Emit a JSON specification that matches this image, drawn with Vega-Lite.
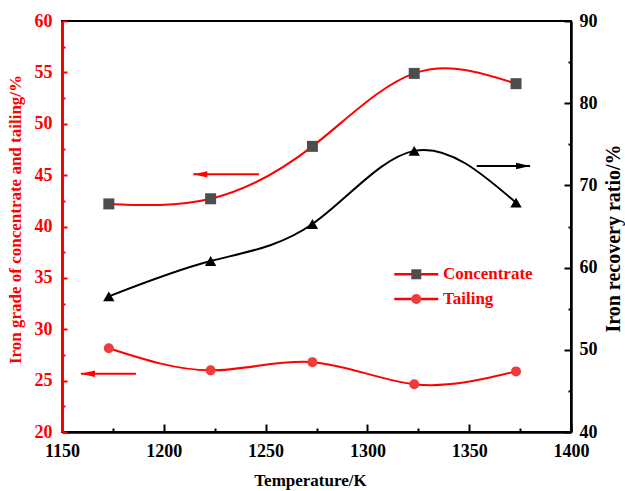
{
  "$schema": "https://vega.github.io/schema/vega-lite/v6.json",
  "width": 509,
  "height": 411,
  "autosize": {"type": "none"},
  "padding": {"left": 62, "top": 21, "right": 54, "bottom": 59},
  "background": "white",
  "config": {
    "view": {"stroke": "black", "strokeWidth": 2},
    "font": "Liberation Serif",
    "axis": {
      "labelFont": "Liberation Serif",
      "labelFontWeight": "bold",
      "labelFontSize": 18,
      "titleFont": "Liberation Serif",
      "titleFontWeight": "bold",
      "titleFontSize": 17,
      "grid": false,
      "labelOverlap": false,
      "labelFlush": false,
      "domainWidth": 2.5,
      "tickWidth": 2
    }
  },
  "datasets": {
    "grade": [
      {"series": "Concentrate", "x": 1173, "y": 42.2},
      {"series": "Concentrate", "x": 1223, "y": 42.7},
      {"series": "Concentrate", "x": 1273, "y": 47.8},
      {"series": "Concentrate", "x": 1323, "y": 54.9},
      {"series": "Concentrate", "x": 1373, "y": 53.9},
      {"series": "Tailing", "x": 1173, "y": 28.15},
      {"series": "Tailing", "x": 1223, "y": 26.0},
      {"series": "Tailing", "x": 1273, "y": 26.8},
      {"series": "Tailing", "x": 1323, "y": 24.65},
      {"series": "Tailing", "x": 1373, "y": 25.9}
    ],
    "recovery": [
      {"x": 1173, "y": 56.5},
      {"x": 1223, "y": 60.8},
      {"x": 1273, "y": 65.3},
      {"x": 1323, "y": 74.2},
      {"x": 1373, "y": 67.9}
    ],
    "arrowsL": [
      {"x": 1214.5, "x2": 1246.8, "y": 45.08},
      {"x": 1159.3, "x2": 1186.3, "y": 25.67}
    ],
    "arrowR": [
      {"x": 1379.9, "x2": 1353.7, "y": 72.36}
    ],
    "legendLine": [
      {"x": 1313.2, "x2": 1334.8, "y": 35.35},
      {"x": 1313.2, "x2": 1334.8, "y": 32.94}
    ],
    "legendSquare": [{"x": 1324, "y": 35.35}],
    "legendCircle": [{"x": 1324, "y": 32.94}],
    "legendText": [
      {"label": "Concentrate", "x": 1337.1, "y": 35.35},
      {"label": "Tailing", "x": 1337.1, "y": 32.94}
    ]
  },
  "encoding": {
    "x": {
      "field": "x",
      "type": "quantitative",
      "scale": {"domain": [1150, 1400], "nice": false, "zero": false},
      "axis": {
        "title": "Temperature/K",
        "titleX": 248,
        "values": [1150, 1175, 1200, 1225, 1250, 1275, 1300, 1325, 1350, 1375, 1400],
        "format": "d",
        "labelExpr": "datum.value % 50 == 0 ? datum.label : ''",
        "tickSize": {"condition": {"test": "datum.value % 50 != 0", "value": -4}, "value": -8},
        "labelPadding": 18,
        "titlePadding": 8,
        "domainColor": "black",
        "tickColor": "black",
        "labelColor": "black",
        "titleColor": "black"
      }
    }
  },
  "layer": [
    {
      "encoding": {
        "y": {
          "field": "y",
          "type": "quantitative",
          "scale": {"domain": [20, 60], "nice": false, "zero": false},
          "axis": {
            "title": "Iron grade of concentrate and tailing/%",
            "values": [20, 22.5, 25, 27.5, 30, 32.5, 35, 37.5, 40, 42.5, 45, 47.5, 50, 52.5, 55, 57.5, 60],
            "labelExpr": "datum.value % 5 == 0 ? datum.label : ''",
            "tickSize": {"condition": {"test": "datum.value % 5 != 0", "value": -3}, "value": -5},
            "labelPadding": 15,
            "titlePadding": 10,
            "titleY": 198,
            "domainColor": "#ff0000",
            "domainWidth": 3,
            "tickColor": "#ff0000",
            "labelColor": "#ff0000",
            "titleColor": "#ff0000"
          }
        }
      },
      "layer": [
        {
          "data": {"name": "grade"},
          "mark": {"type": "line", "interpolate": "natural", "color": "#ff0000", "strokeWidth": 2},
          "encoding": {"detail": {"field": "series"}}
        },
        {
          "data": {"name": "grade"},
          "transform": [{"filter": "datum.series == 'Concentrate'"}],
          "mark": {"type": "point", "shape": "square", "filled": true, "color": "#4d4d4d", "size": 121, "opacity": 1, "strokeWidth": 0}
        },
        {
          "data": {"name": "grade"},
          "transform": [{"filter": "datum.series == 'Tailing'"}],
          "mark": {"type": "point", "shape": "circle", "filled": true, "color": "#ee3b3b", "size": 100, "opacity": 1, "strokeWidth": 0}
        },
        {
          "data": {"name": "arrowsL"},
          "mark": {"type": "rule", "color": "#ff0000", "strokeWidth": 2},
          "encoding": {"x2": {"field": "x2"}}
        },
        {
          "data": {"name": "arrowsL"},
          "mark": {"type": "point", "shape": "M0,0L2,-0.45L2,0.45Z", "filled": true, "color": "#ff0000", "size": 196, "opacity": 1, "strokeWidth": 0}
        },
        {
          "data": {"name": "legendLine"},
          "mark": {"type": "rule", "color": "#ff0000", "strokeWidth": 2.5},
          "encoding": {"x2": {"field": "x2"}}
        },
        {
          "data": {"name": "legendSquare"},
          "mark": {"type": "point", "shape": "square", "filled": true, "color": "#4d4d4d", "size": 100, "opacity": 1, "strokeWidth": 0}
        },
        {
          "data": {"name": "legendCircle"},
          "mark": {"type": "point", "shape": "circle", "filled": true, "color": "#ee3b3b", "size": 100, "opacity": 1, "strokeWidth": 0}
        },
        {
          "data": {"name": "legendText"},
          "mark": {"type": "text", "align": "left", "baseline": "middle", "font": "Liberation Serif", "fontWeight": "bold", "fontSize": 17, "color": "#ff0000"},
          "encoding": {"text": {"field": "label"}}
        }
      ]
    },
    {
      "encoding": {
        "y": {
          "field": "y",
          "type": "quantitative",
          "scale": {"domain": [40, 90], "nice": false, "zero": false},
          "axis": {
            "orient": "right",
            "title": "Iron recovery ratio/%",
            "titleAngle": 270,
            "titleBaseline": "top",
            "titleFontSize": 20,
            "titleY": 217,
            "values": [40, 45, 50, 55, 60, 65, 70, 75, 80, 85, 90],
            "labelExpr": "datum.value % 10 == 0 ? datum.label : ''",
            "tickSize": {"condition": {"test": "datum.value % 10 != 0", "value": -3}, "value": -7},
            "labelPadding": 15,
            "titlePadding": 6,
            "domainColor": "black",
            "tickColor": "black",
            "labelColor": "black",
            "titleColor": "black"
          }
        }
      },
      "layer": [
        {
          "data": {"name": "recovery"},
          "mark": {"type": "line", "interpolate": "natural", "color": "black", "strokeWidth": 2}
        },
        {
          "data": {"name": "recovery"},
          "mark": {"type": "point", "shape": "triangle-up", "filled": true, "color": "black", "size": 130, "opacity": 1, "strokeWidth": 0}
        },
        {
          "data": {"name": "arrowR"},
          "mark": {"type": "rule", "color": "black", "strokeWidth": 2},
          "encoding": {"x2": {"field": "x2"}}
        },
        {
          "data": {"name": "arrowR"},
          "mark": {"type": "point", "shape": "M0,0L-2,-0.45L-2,0.45Z", "filled": true, "color": "black", "size": 196, "opacity": 1, "strokeWidth": 0}
        }
      ]
    }
  ],
  "resolve": {"scale": {"y": "independent"}, "axis": {"y": "independent"}}
}
